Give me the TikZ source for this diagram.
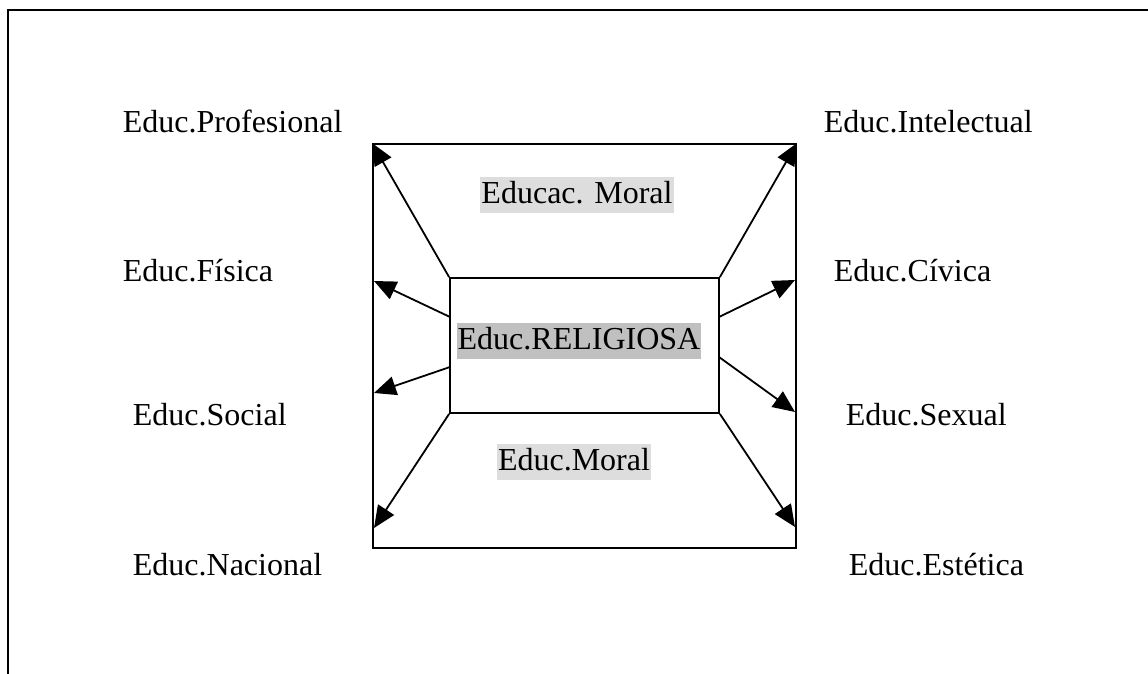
\documentclass[tikz,border=0pt]{standalone}
\usepackage{fontspec}
\setmainfont{Liberation Serif}
\usetikzlibrary{arrows.meta}
\definecolor{grisclaro}{HTML}{DDDDDD}
\definecolor{grisoscuro}{HTML}{C0C0C0}
\begin{document}
\begin{tikzpicture}[
  x=1pt, y=-1pt,
  every node/.style={
    font=\fontsize{32}{38}\selectfont,
    inner sep=0pt
  },
  rama/.style={anchor=base west},
  fondo/.style={inner xsep=1pt, inner ysep=2pt, text height=24pt, text depth=8pt},
  flecha/.style={-{Triangle[length=22pt,width=19pt]}, line width=1.8pt},
  line width=1.8pt
]
  \useasboundingbox (0,0) rectangle (1148,674);
  \draw (8,674) -- (8,10) -- (1148,10);

  \node[draw, minimum width=423, minimum height=404] (marco)  at (584.5,346) {};
  \node[draw, minimum width=269, minimum height=135] (centro) at (584.5,345.5) {};

  \node[fondo, fill=grisclaro]  (moral1) at (577,195) {Educac. Moral};
  \node[fondo, fill=grisoscuro] (relig)  at (579,341) {Educ.RELIGIOSA};
  \node[fondo, fill=grisclaro]  (moral2) at (574,462) {Educ.Moral};

  \node[rama] (prof) at (122,132) {Educ.Profesional};
  \node[rama] (fis)  at (122,281) {Educ.Física};
  \node[rama] (soc)  at (132,425) {Educ.Social};
  \node[rama] (nac)  at (132,575) {Educ.Nacional};
  \node[rama] (int)  at (823,132) {Educ.Intelectual};
  \node[rama] (civ)  at (833,281) {Educ.Cívica};
  \node[rama] (sex)  at (845,425) {Educ.Sexual};
  \node[rama] (est)  at (848,575) {Educ.Estética};

  \coordinate (sl1) at (450,317);
  \coordinate (sl2) at (450,367);
  \coordinate (sr1) at (719,317);
  \coordinate (sr2) at (719,357);
  \coordinate (tl1) at (374,281);
  \coordinate (tl2) at (374,393);
  \coordinate (tl3) at (374,528);
  \coordinate (tr1) at (795,280);
  \coordinate (tr2) at (795,412);
  \coordinate (tr3) at (795,527);

  \draw[flecha] (centro.north west) -- (marco.north west);
  \draw[flecha] (sl1) -- (tl1);
  \draw[flecha] (sl2) -- (tl2);
  \draw[flecha] (centro.south west) -- (tl3);
  \draw[flecha] (centro.north east) -- (marco.north east);
  \draw[flecha] (sr1) -- (tr1);
  \draw[flecha] (sr2) -- (tr2);
  \draw[flecha] (centro.south east) -- (tr3);
\end{tikzpicture}
\end{document}
